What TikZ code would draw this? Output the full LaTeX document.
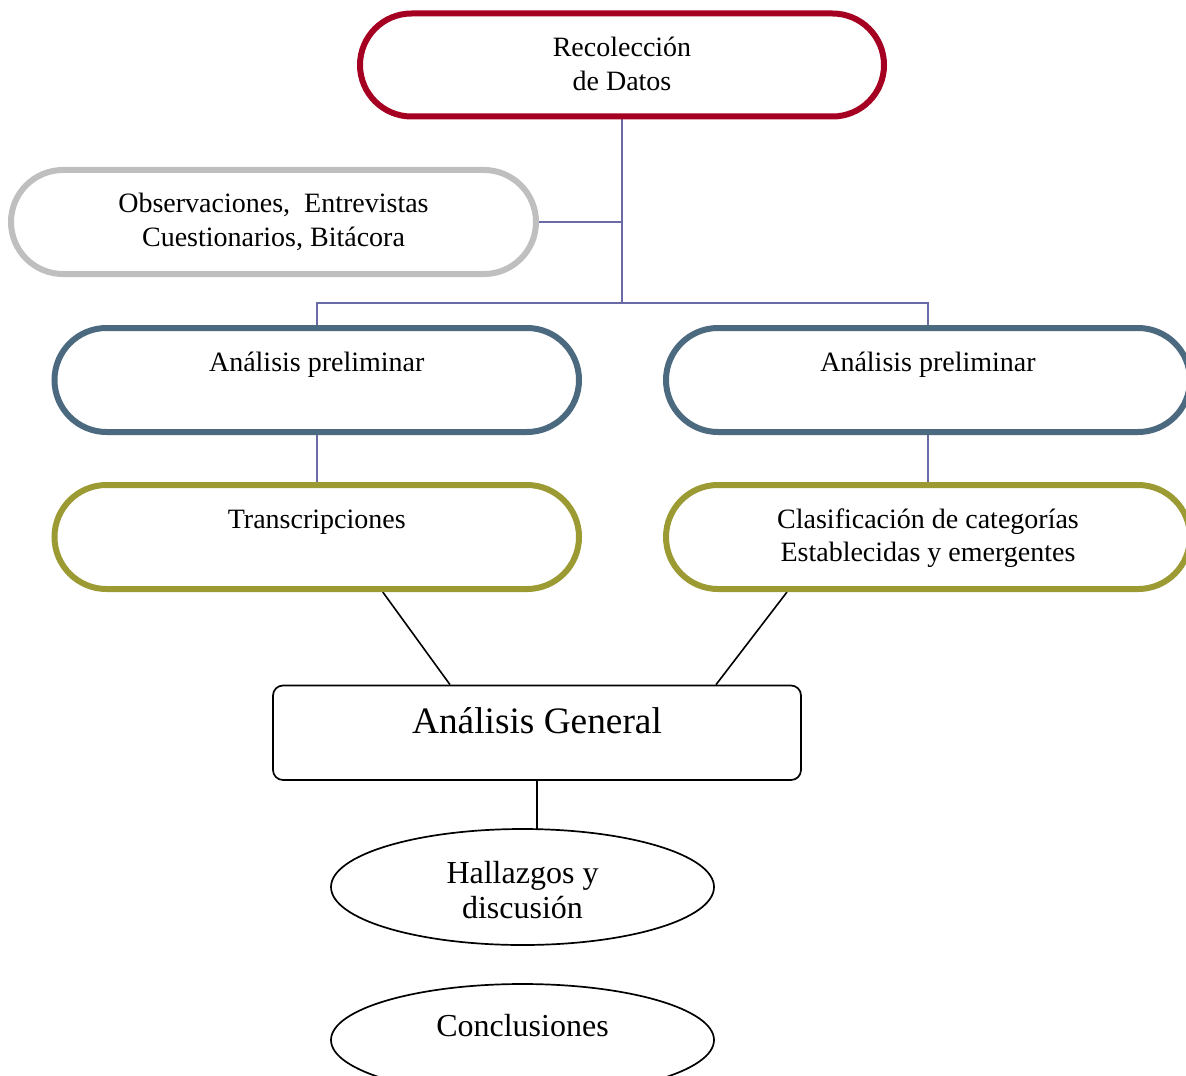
\documentclass[tikz,border=0pt]{standalone}
\usepackage{fontspec}
\setmainfont{Liberation Serif}
\usetikzlibrary{shapes.geometric,calc,backgrounds}
\definecolor{cRed}{HTML}{A50021}
\definecolor{cGray}{HTML}{BFBFBF}
\definecolor{cSteel}{HTML}{4B6A80}
\definecolor{cOlive}{HTML}{9C9A33}
\definecolor{cLink}{HTML}{6A6AA6}
\newcommand\pilltext[3]{\parbox[c][#1][t]{#2}{\centering\fontsize{14pt}{16.8pt}\selectfont\rule{0pt}{21.5pt}#3}}
\newcommand\ovaltext[1]{\raisebox{-3.5pt}[\height][\depth]{\begin{tabular}{@{}c@{}}#1\end{tabular}}}
\begin{document}
\begin{tikzpicture}[x=0.5pt,y=-0.5pt,
  pill/.style={draw, rectangle, rounded corners=26pt, line width=3pt, inner sep=0pt, fill=white},
  link/.style={draw=cLink, line width=1pt},
  blk/.style={draw=black, line width=0.8pt},
  genbox/.style={draw=black, rectangle, rounded corners=5pt, line width=0.85pt, inner sep=0pt, fill=white},
  oval/.style={draw=black, ellipse, line width=0.85pt, inner sep=0pt, minimum width=191.5pt, minimum height=58pt, fill=white, font=\fontsize{16pt}{17.5pt}\selectfont},
]
\useasboundingbox (0,0) rectangle (1186,1075);
\node[pill, draw=cRed, rounded corners=25.75pt] (rec) at (622,65) {\pilltext{51.5pt}{262pt}{Recolección\\de Datos}};
\node[pill, draw=cGray] (obs) at (273.5,222) {\pilltext{52pt}{262.5pt}{Observaciones,\ \ Entrevistas\\Cuestionarios, Bitácora}};
\node[pill, draw=cSteel] (ap1) at (316.75,380) {\pilltext{52pt}{262.25pt}{Análisis preliminar}};
\node[pill, draw=cSteel] (ap2) at (928,380) {\pilltext{52pt}{262pt}{Análisis preliminar}};
\node[pill, draw=cOlive] (tr) at (316.75,537) {\pilltext{52pt}{262.25pt}{Transcripciones}};
\node[pill, draw=cOlive] (cl) at (928,537) {\pilltext{52pt}{262pt}{Clasificación de categorías\\Establecidas y emergentes}};
\node[genbox] (ag) at (537,732.75) {\parbox[c][47.25pt][t]{264pt}{\centering\fontsize{18.67pt}{22pt}\selectfont\rule{0pt}{23.75pt}Análisis General}};
\node[oval] (hal) at (522.5,887) {\ovaltext{Hallazgos y\\discusión}};
\node[oval, minimum height=56pt] (con) at (522.5,1040) {\ovaltext{Conclusiones\\\mbox{}}};
\coordinate (j) at (622,303);
\begin{scope}[on background layer]
\draw[link] (rec.south) -- (j);
\draw[link] (obs.east) -- (obs.east -| rec.south);
\draw[link] (ap1.north) |- (j) -| (ap2.north);
\draw[link] (ap1.south) -- (tr.north);
\draw[link] (ap2.south) -- (cl.north);
\draw[blk] ($(tr.south)+(66,0)$) -- ($(ag.north)+(-87,0)$);
\draw[blk] ($(cl.south)+(-141,0)$) -- ($(ag.north)+(179,0)$);
\draw[blk] (ag.south) -- ($(hal.north -| ag.south)+(0,2)$);
\end{scope}
\end{tikzpicture}
\end{document}
